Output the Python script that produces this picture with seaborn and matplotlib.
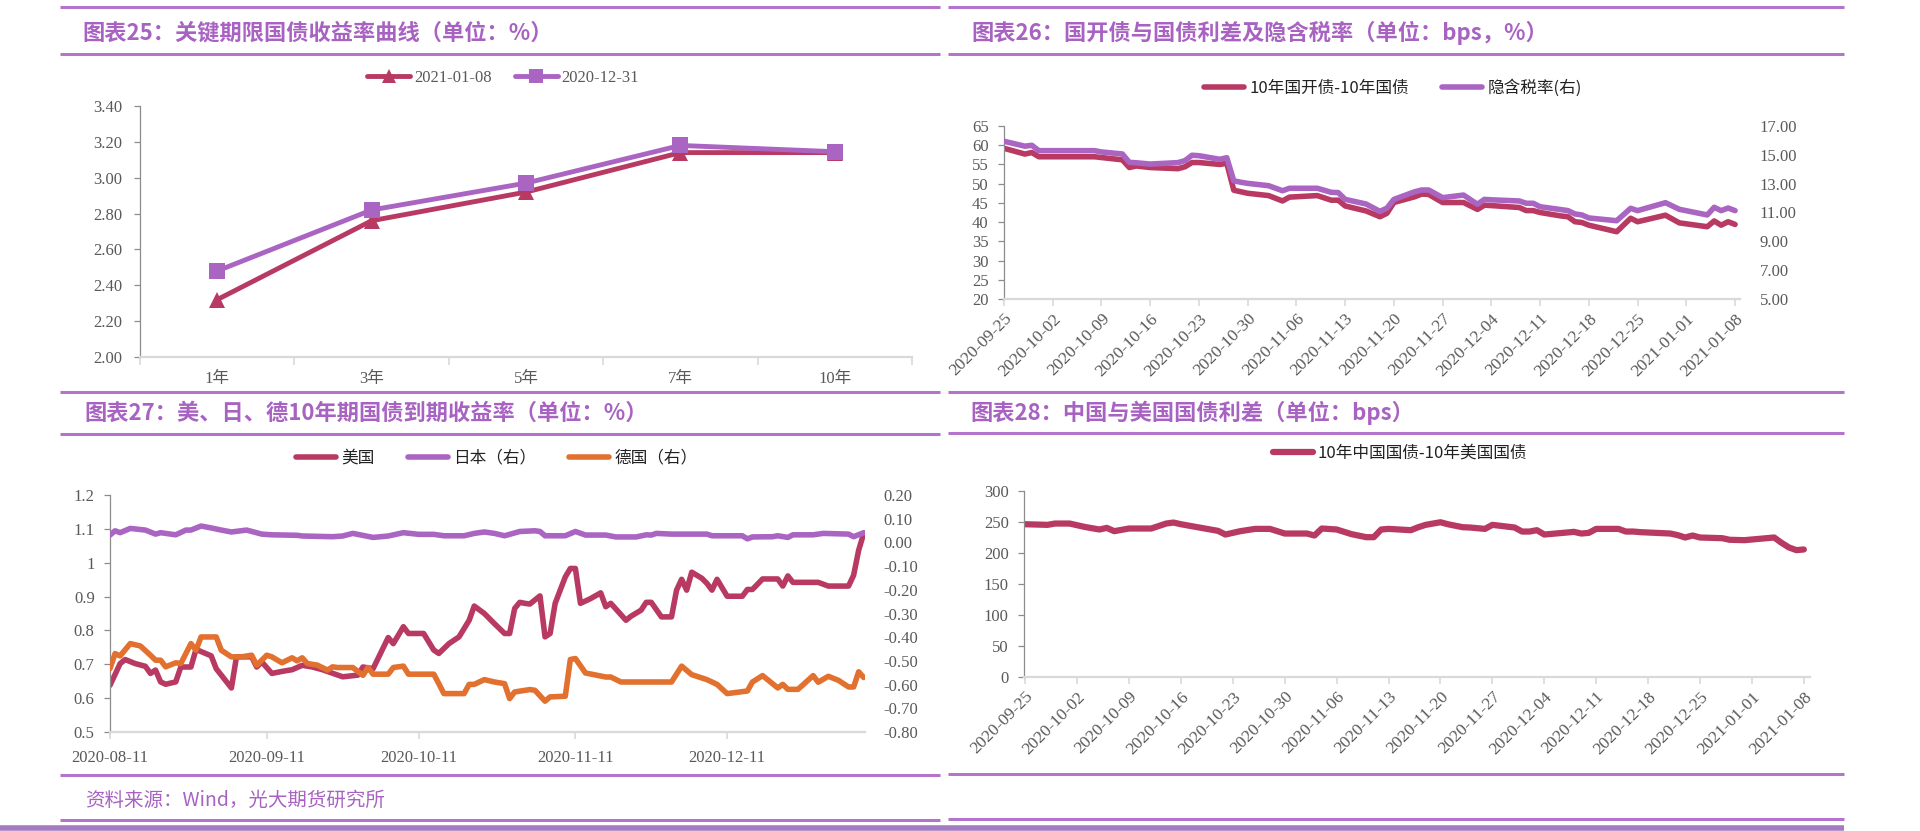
import pandas as pd
import numpy as np
import seaborn as sns
import matplotlib.pyplot as plt
import matplotlib.dates as mdates
from matplotlib.lines import Line2D
from matplotlib.ticker import FuncFormatter, MultipleLocator

sns.set_theme(style='white')
plt.rcParams['font.family'] = ['Liberation Serif', 'Noto Sans CJK SC', 'DejaVu Sans']

W, H = 1920, 831
RED = '#B83A62'
PURPLE = '#AA65C2'
ORANGE = '#E2702F'
TITLE = '#A862C2'
RULE = '#B574CB'
TICK = '#595959'
CJK = ['Noto Sans CJK SC', 'DejaVu Sans']

# chart 25: key tenor yield curve
tenors = ['1年', '3年', '5年', '7年', '10年']
curve_0108 = [2.32, 2.76, 2.92, 3.14, 3.14]
curve_1231 = [2.48, 2.82, 2.97, 3.18, 3.145]

# chart 26: CDB - CGB spread and implied tax rate
spread_dates = ['2020-09-25', '2020-09-28', '2020-09-29', '2020-09-30', '2020-10-08', '2020-10-09', '2020-10-12',
                '2020-10-13', '2020-10-14', '2020-10-16', '2020-10-20', '2020-10-21', '2020-10-22', '2020-10-23',
                '2020-10-26', '2020-10-27', '2020-10-28', '2020-10-29', '2020-10-30', '2020-11-02', '2020-11-04',
                '2020-11-05', '2020-11-09', '2020-11-11', '2020-11-12', '2020-11-13', '2020-11-16', '2020-11-18',
                '2020-11-19', '2020-11-20', '2020-11-23', '2020-11-24', '2020-11-25', '2020-11-27', '2020-11-30',
                '2020-12-02', '2020-12-03', '2020-12-04', '2020-12-08', '2020-12-09', '2020-12-10', '2020-12-11',
                '2020-12-14', '2020-12-15', '2020-12-16', '2020-12-17', '2020-12-18', '2020-12-22', '2020-12-24',
                '2020-12-25', '2020-12-29', '2020-12-31', '2021-01-04', '2021-01-05', '2021-01-06', '2021-01-07',
                '2021-01-08']
cdb_spread = [59.2, 57.7, 58.1, 57.0, 57.0, 56.8, 56.2, 54.2, 54.6, 54.2,
              53.9, 54.4, 55.5, 55.5, 55.0, 55.3, 48.3, 47.9, 47.5, 46.9,
              45.5, 46.5, 46.9, 45.7, 45.7, 44.2, 42.9, 41.4, 42.3, 45.1,
              46.6, 47.3, 47.2, 45.1, 45.1, 43.3, 44.4, 44.3, 43.8, 43.0,
              43.0, 42.5, 41.6, 41.4, 40.1, 39.9, 39.2, 37.5, 41.0, 40.1,
              41.8, 39.8, 38.8, 40.3, 39.2, 40.1, 39.4]
implied_tax = [15.94, 15.60, 15.66, 15.29, 15.29, 15.20, 15.06, 14.48, 14.45, 14.36,
               14.46, 14.60, 14.97, 14.94, 14.69, 14.80, 13.20, 13.10, 13.02, 12.86,
               12.51, 12.68, 12.68, 12.40, 12.38, 11.91, 11.59, 11.08, 11.30, 11.91,
               12.44, 12.56, 12.56, 12.03, 12.21, 11.57, 11.91, 11.88, 11.80, 11.64,
               11.64, 11.40, 11.20, 11.13, 10.90, 10.83, 10.62, 10.43, 11.29, 11.13,
               11.68, 11.22, 10.83, 11.36, 11.13, 11.31, 11.13]
tax_ticks = [5, 7, 9, 11, 13, 15, 17]

# chart 27: US / Japan / Germany 10y yields
us_dates = ['2020-08-11', '2020-08-13', '2020-08-14', '2020-08-16', '2020-08-18', '2020-08-19', '2020-08-20',
            '2020-08-21', '2020-08-22', '2020-08-24', '2020-08-25', '2020-08-27', '2020-08-28', '2020-08-31',
            '2020-09-01', '2020-09-04', '2020-09-05', '2020-09-08', '2020-09-09', '2020-09-10', '2020-09-12',
            '2020-09-14', '2020-09-16', '2020-09-18', '2020-09-20', '2020-09-22', '2020-09-26', '2020-09-29',
            '2020-09-30', '2020-10-02', '2020-10-05', '2020-10-06', '2020-10-08', '2020-10-09', '2020-10-12',
            '2020-10-14', '2020-10-15', '2020-10-17', '2020-10-19', '2020-10-21', '2020-10-22', '2020-10-24',
            '2020-10-26', '2020-10-28', '2020-10-29', '2020-10-30', '2020-10-31', '2020-11-01', '2020-11-02',
            '2020-11-04', '2020-11-05', '2020-11-06', '2020-11-07', '2020-11-09', '2020-11-10', '2020-11-11',
            '2020-11-12', '2020-11-14', '2020-11-16', '2020-11-17', '2020-11-18', '2020-11-21', '2020-11-22',
            '2020-11-24', '2020-11-25', '2020-11-26', '2020-11-28', '2020-11-30', '2020-12-01', '2020-12-02',
            '2020-12-03', '2020-12-04', '2020-12-06', '2020-12-07', '2020-12-08', '2020-12-09', '2020-12-11',
            '2020-12-14', '2020-12-15', '2020-12-16', '2020-12-18', '2020-12-21', '2020-12-22', '2020-12-23',
            '2020-12-24', '2020-12-29', '2020-12-31', '2021-01-04', '2021-01-05', '2021-01-06', '2021-01-07']
us_10y = [0.638, 0.702, 0.714, 0.702, 0.694, 0.673, 0.683, 0.648, 0.641, 0.648,
          0.692, 0.692, 0.744, 0.725, 0.687, 0.630, 0.722, 0.722, 0.692, 0.707,
          0.673, 0.679, 0.684, 0.697, 0.692, 0.684, 0.663, 0.668, 0.692, 0.687,
          0.779, 0.761, 0.811, 0.791, 0.791, 0.742, 0.732, 0.761, 0.781, 0.830,
          0.872, 0.850, 0.820, 0.791, 0.791, 0.865, 0.883, 0.880, 0.878, 0.902,
          0.781, 0.791, 0.880, 0.958, 0.983, 0.983, 0.880, 0.894, 0.911, 0.870,
          0.880, 0.830, 0.842, 0.860, 0.883, 0.883, 0.840, 0.840, 0.919, 0.951,
          0.919, 0.972, 0.954, 0.939, 0.919, 0.951, 0.901, 0.901, 0.921, 0.921,
          0.952, 0.952, 0.931, 0.961, 0.942, 0.942, 0.931, 0.931, 0.963, 1.037,
          1.087]
jp_dates = ['2020-08-11', '2020-08-12', '2020-08-13', '2020-08-15', '2020-08-18', '2020-08-20', '2020-08-21',
            '2020-08-24', '2020-08-26', '2020-08-27', '2020-08-29', '2020-08-31', '2020-09-02', '2020-09-04',
            '2020-09-07', '2020-09-10', '2020-09-12', '2020-09-17', '2020-09-18', '2020-09-24', '2020-09-26',
            '2020-09-28', '2020-10-02', '2020-10-05', '2020-10-08', '2020-10-11', '2020-10-14', '2020-10-16',
            '2020-10-20', '2020-10-22', '2020-10-24', '2020-10-26', '2020-10-28', '2020-10-31', '2020-11-03',
            '2020-11-04', '2020-11-05', '2020-11-09', '2020-11-11', '2020-11-13', '2020-11-17', '2020-11-19',
            '2020-11-23', '2020-11-25', '2020-11-26', '2020-11-27', '2020-11-30', '2020-12-07', '2020-12-08',
            '2020-12-14', '2020-12-15', '2020-12-16', '2020-12-20', '2020-12-21', '2020-12-23', '2020-12-24',
            '2020-12-28', '2020-12-30', '2021-01-04', '2021-01-05', '2021-01-07']
jp_10y = [0.031, 0.049, 0.041, 0.059, 0.052, 0.035, 0.041, 0.032, 0.052, 0.052,
          0.069, 0.061, 0.052, 0.044, 0.052, 0.035, 0.032, 0.030, 0.027, 0.024,
          0.027, 0.038, 0.021, 0.027, 0.041, 0.034, 0.034, 0.028, 0.028, 0.038,
          0.044, 0.038, 0.028, 0.046, 0.049, 0.046, 0.028, 0.028, 0.046, 0.031,
          0.031, 0.023, 0.023, 0.032, 0.031, 0.038, 0.035, 0.035, 0.028, 0.028,
          0.015, 0.023, 0.024, 0.028, 0.021, 0.032, 0.032, 0.038, 0.035, 0.024,
          0.041]
de_dates = ['2020-08-11', '2020-08-12', '2020-08-13', '2020-08-15', '2020-08-17', '2020-08-19', '2020-08-20',
            '2020-08-21', '2020-08-22', '2020-08-24', '2020-08-25', '2020-08-27', '2020-08-28', '2020-08-29',
            '2020-09-01', '2020-09-02', '2020-09-04', '2020-09-06', '2020-09-08', '2020-09-09', '2020-09-11',
            '2020-09-12', '2020-09-14', '2020-09-16', '2020-09-17', '2020-09-18', '2020-09-19', '2020-09-21',
            '2020-09-23', '2020-09-24', '2020-09-25', '2020-09-28', '2020-09-30', '2020-10-01', '2020-10-02',
            '2020-10-05', '2020-10-06', '2020-10-08', '2020-10-09', '2020-10-14', '2020-10-15', '2020-10-16',
            '2020-10-20', '2020-10-21', '2020-10-22', '2020-10-24', '2020-10-26', '2020-10-28', '2020-10-29',
            '2020-10-30', '2020-11-02', '2020-11-03', '2020-11-05', '2020-11-06', '2020-11-09', '2020-11-10',
            '2020-11-11', '2020-11-13', '2020-11-17', '2020-11-18', '2020-11-20', '2020-11-30', '2020-12-02',
            '2020-12-04', '2020-12-07', '2020-12-09', '2020-12-11', '2020-12-15', '2020-12-16', '2020-12-18',
            '2020-12-21', '2020-12-22', '2020-12-23', '2020-12-25', '2020-12-28', '2020-12-29', '2020-12-31',
            '2021-01-02', '2021-01-04', '2021-01-05', '2021-01-06', '2021-01-07']
de_10y = [-0.532, -0.469, -0.479, -0.427, -0.437, -0.476, -0.497, -0.497, -0.525, -0.508,
          -0.511, -0.427, -0.455, -0.399, -0.399, -0.455, -0.483, -0.483, -0.476, -0.518,
          -0.476, -0.483, -0.508, -0.487, -0.500, -0.487, -0.511, -0.518, -0.539, -0.525,
          -0.528, -0.528, -0.561, -0.528, -0.556, -0.556, -0.528, -0.522, -0.556, -0.556,
          -0.596, -0.638, -0.638, -0.599, -0.599, -0.579, -0.589, -0.596, -0.659, -0.631,
          -0.621, -0.624, -0.670, -0.652, -0.649, -0.494, -0.490, -0.551, -0.568, -0.568,
          -0.589, -0.589, -0.522, -0.558, -0.579, -0.599, -0.638, -0.627, -0.589, -0.562,
          -0.614, -0.599, -0.620, -0.620, -0.562, -0.590, -0.565, -0.582, -0.610, -0.610,
          -0.546, -0.570]

# chart 28: China 10y - US 10y spread
cn_us_dates = ['2020-09-25', '2020-09-28', '2020-09-29', '2020-10-01', '2020-10-03', '2020-10-05', '2020-10-06',
               '2020-10-07', '2020-10-09', '2020-10-12', '2020-10-14', '2020-10-15', '2020-10-16', '2020-10-18',
               '2020-10-21', '2020-10-22', '2020-10-23', '2020-10-24', '2020-10-26', '2020-10-28', '2020-10-30',
               '2020-11-02', '2020-11-03', '2020-11-04', '2020-11-06', '2020-11-08', '2020-11-10', '2020-11-11',
               '2020-11-12', '2020-11-13', '2020-11-16', '2020-11-17', '2020-11-18', '2020-11-20', '2020-11-21',
               '2020-11-23', '2020-11-24', '2020-11-26', '2020-11-27', '2020-11-30', '2020-12-01', '2020-12-02',
               '2020-12-03', '2020-12-04', '2020-12-07', '2020-12-08', '2020-12-09', '2020-12-10', '2020-12-11',
               '2020-12-14', '2020-12-15', '2020-12-16', '2020-12-17', '2020-12-21', '2020-12-22', '2020-12-23',
               '2020-12-24', '2020-12-25', '2020-12-28', '2020-12-29', '2020-12-31', '2021-01-04', '2021-01-05',
               '2021-01-06', '2021-01-07', '2021-01-08']
cn_us_spread = [246.4, 245.4, 247.5, 247.5, 242.1, 237.9, 240.5, 235.2, 239.5, 239.5,
                247.5, 249.1, 246.4, 242.1, 235.7, 229.8, 232.5, 235.2, 238.9, 238.9,
                231.4, 231.4, 228.2, 239.5, 237.9, 230.4, 225.5, 225.5, 237.9, 238.9,
                236.8, 241.6, 245.4, 249.6, 246.4, 241.6, 241.1, 238.9, 245.4, 241.1,
                234.6, 234.6, 236.8, 229.8, 233.0, 234.1, 231.4, 232.5, 238.9, 238.9,
                234.6, 234.6, 233.6, 231.4, 228.8, 225.0, 228.2, 225.0, 223.9, 221.3,
                220.7, 225.0, 216.4, 208.9, 204.6, 205.7]


def box(x0, y0, x1, y1):
    # pixel box (top-left origin) -> figure fraction
    return [x0 / W, 1 - y1 / H, (x1 - x0) / W, (y1 - y0) / H]


def rule(fig, x0, x1, y, lw=2.2, color=RULE):
    fig.add_artist(Line2D([x0 / W, x1 / W], [1 - y / H] * 2, transform=fig.transFigure,
                          color=color, lw=lw, solid_capstyle='butt'))


def title(fig, x, y, s):
    fig.text(x / W, 1 - y / H, s, ha='left', va='center', fontsize=16, fontweight='bold',
             color=TITLE, family=CJK)


def style_axes(ax, ypad=7):
    sns.despine(ax=ax)
    ax.spines['left'].set_color('#8C8C8C')
    ax.spines['left'].set_linewidth(0.9)
    ax.spines['bottom'].set_color('#D9D9D9')
    ax.spines['bottom'].set_linewidth(1.6)
    ax.tick_params(axis='y', which='both', left=True, length=4, width=0.9, color='#8C8C8C',
                   pad=ypad, labelsize=12, labelcolor=TICK)
    ax.tick_params(axis='x', which='both', bottom=True, length=5, width=1.2, color='#D9D9D9',
                   labelsize=12, labelcolor=TICK)
    ax.set_xlabel('')
    ax.set_ylabel('')


def style_right(ax, pad):
    for s in ax.spines.values():
        s.set_visible(False)
    ax.tick_params(axis='y', right=True, length=0, pad=pad, labelsize=12, labelcolor=TICK)
    ax.set_ylabel('')


def drop_legend(ax):
    if ax.get_legend() is not None:
        ax.get_legend().remove()


def date_ticks(ax, ticks, fmt, rotate):
    ax.set_xticks(ticks)
    ax.xaxis.set_major_formatter(mdates.DateFormatter(fmt))
    if rotate:
        for lab in ax.get_xticklabels():
            lab.set_rotation(45)
            lab.set_ha('right')
            lab.set_va('top')
            lab.set_rotation_mode('anchor')
            lab.set_fontsize(12.5)


fig = plt.figure(figsize=(W / 100, H / 100), dpi=100)
fig.patch.set_facecolor('white')

# section rules
for y in [7, 54, 392, 434, 775, 820]:
    rule(fig, 60, 940, y)
for y in [7, 54, 392, 433, 774, 819]:
    rule(fig, 948, 1844, y)
rule(fig, 0, 1844, 828, lw=4, color='#A47BC0')

title(fig, 82, 33, '图表25：关键期限国债收益率曲线（单位：%）')
title(fig, 971, 33, '图表26：国开债与国债利差及隐含税率（单位：bps，%）')
title(fig, 84, 413, '图表27：美、日、德10年期国债到期收益率（单位：%）')
title(fig, 970, 413, '图表28：中国与美国国债利差（单位：bps）')
fig.text(85 / W, 1 - 800 / H, '资料来源：Wind，光大期货研究所', ha='left', va='center',
         fontsize=14, style='italic', color=TITLE, family=CJK)

# ---- chart 25
df1 = pd.DataFrame({'期限': tenors * 2,
                    '收益率': curve_0108 + curve_1231,
                    '日期': ['2021-01-08'] * 5 + ['2020-12-31'] * 5})
ax1 = fig.add_axes(box(140, 106, 912, 357))
sns.lineplot(data=df1, x='期限', y='收益率', hue='日期', style='日期',
             markers={'2021-01-08': '^', '2020-12-31': 's'}, dashes=False,
             palette={'2021-01-08': RED, '2020-12-31': PURPLE}, sort=False,
             linewidth=3.5, markersize=11, markeredgewidth=0, ax=ax1)
h1, l1 = ax1.get_legend_handles_labels()
drop_legend(ax1)
style_axes(ax1, ypad=9)
ax1.set_xlim(-0.5, 4.5)
ax1.set_ylim(2.0, 3.4)
ax1.yaxis.set_major_locator(MultipleLocator(0.2))
ax1.yaxis.set_major_formatter(FuncFormatter(lambda v, p: f'{v:.2f}'))
ax1.set_xticks(np.arange(-0.5, 5, 1), minor=True)
ax1.tick_params(axis='x', which='major', length=0, pad=10)
ax1.tick_params(axis='x', which='minor', length=6)
for hd in h1:
    hd.set_linewidth(3.5)
    hd.set_markersize(10)
fig.legend(h1, l1, loc='center', bbox_to_anchor=(503 / W, 1 - 78 / H), ncol=2, frameon=False,
           handlelength=2.6, handletextpad=0.2, columnspacing=1.4,
           prop={'family': 'Liberation Serif', 'size': 12}, labelcolor=TICK)

# ---- chart 26
d2 = pd.to_datetime(spread_dates)
ax2 = fig.add_axes(box(1004, 126, 1740, 299))
sns.lineplot(x=d2, y=cdb_spread, ax=ax2, color=RED, linewidth=3.2, label='10年国开债-10年国债')
ax2r = ax2.twinx()
sns.lineplot(x=d2, y=implied_tax, ax=ax2r, color=PURPLE, linewidth=3.2, label='隐含税率(右)')
h2, l2 = ax2.get_legend_handles_labels()
h2r, l2r = ax2r.get_legend_handles_labels()
drop_legend(ax2)
drop_legend(ax2r)
style_axes(ax2)
style_right(ax2r, pad=14)
ax2.set_ylim(20, 65)
ax2.yaxis.set_major_locator(MultipleLocator(5))
ax2r.set_ylim(5, 17)
ax2r.set_yticks(tax_ticks)
ax2r.yaxis.set_major_formatter(FuncFormatter(lambda v, p: f'{v:.2f}'))
ax2.set_xlim(pd.Timestamp('2020-09-25'), pd.Timestamp('2021-01-08 17:00'))
date_ticks(ax2, pd.date_range('2020-09-25', '2021-01-08', freq='7D'), '%Y-%m-%d', True)
for hd in h2 + h2r:
    hd.set_linewidth(4)
fig.legend(h2 + h2r, l2 + l2r, loc='center', bbox_to_anchor=(1393 / W, 1 - 88 / H), ncol=2,
           frameon=False, handlelength=2.4, handletextpad=0.3, columnspacing=2.0,
           prop={'family': CJK, 'size': 12}, labelcolor='#222222')

# ---- chart 27
ax3 = fig.add_axes(box(110, 495, 865, 732))
sns.lineplot(x=pd.to_datetime(us_dates), y=us_10y, ax=ax3, color=RED, linewidth=2.6, label='美国')
ax3r = ax3.twinx()
sns.lineplot(x=pd.to_datetime(jp_dates), y=jp_10y, ax=ax3r, color=PURPLE, linewidth=2.6, label='日本（右）')
sns.lineplot(x=pd.to_datetime(de_dates), y=de_10y, ax=ax3r, color=ORANGE, linewidth=2.6, label='德国（右）')
h3, l3 = ax3.get_legend_handles_labels()
h3r, l3r = ax3r.get_legend_handles_labels()
drop_legend(ax3)
drop_legend(ax3r)
style_axes(ax3)
style_right(ax3r, pad=13)
ax3.set_ylim(0.5, 1.2)
ax3.yaxis.set_major_locator(MultipleLocator(0.1))
ax3.yaxis.set_major_formatter(FuncFormatter(lambda v, p: f'{v:.1f}'.rstrip('0').rstrip('.')))
ax3r.set_ylim(-0.8, 0.2)
ax3r.yaxis.set_major_locator(MultipleLocator(0.1))
ax3r.yaxis.set_major_formatter(FuncFormatter(lambda v, p: f'{v:.2f}'))
ax3.set_xlim(pd.Timestamp('2020-08-11'), pd.Timestamp('2021-01-07 06:00'))
date_ticks(ax3, pd.to_datetime(['2020-08-11', '2020-09-11', '2020-10-11', '2020-11-11', '2020-12-11']),
           '%Y-%m-%d', False)
ax3.tick_params(axis='x', pad=8)
for hd in h3 + h3r:
    hd.set_linewidth(4)
fig.legend(h3 + h3r, l3 + l3r, loc='center', bbox_to_anchor=(497 / W, 1 - 458 / H), ncol=3,
           frameon=False, handlelength=2.4, handletextpad=0.3, columnspacing=2.0,
           prop={'family': CJK, 'size': 12}, labelcolor='#222222')

# ---- chart 28
ax4 = fig.add_axes(box(1024, 491, 1810, 677))
sns.lineplot(x=pd.to_datetime(cn_us_dates), y=cn_us_spread, ax=ax4, color=RED, linewidth=3.6,
             label='10年中国国债-10年美国国债')
h4, l4 = ax4.get_legend_handles_labels()
drop_legend(ax4)
style_axes(ax4)
ax4.set_ylim(0, 300)
ax4.yaxis.set_major_locator(MultipleLocator(50))
ax4.set_xlim(pd.Timestamp('2020-09-24 20:00'), pd.Timestamp('2021-01-08 20:00'))
date_ticks(ax4, pd.date_range('2020-09-25', '2021-01-08', freq='7D'), '%Y-%m-%d', True)
for hd in h4:
    hd.set_linewidth(4.5)
fig.legend(h4, l4, loc='center', bbox_to_anchor=(1400 / W, 1 - 453 / H), ncol=1,
           frameon=False, handlelength=2.4, handletextpad=0.3,
           prop={'family': CJK, 'size': 12}, labelcolor='#222222')

fig.savefig('out.png', dpi=100)
